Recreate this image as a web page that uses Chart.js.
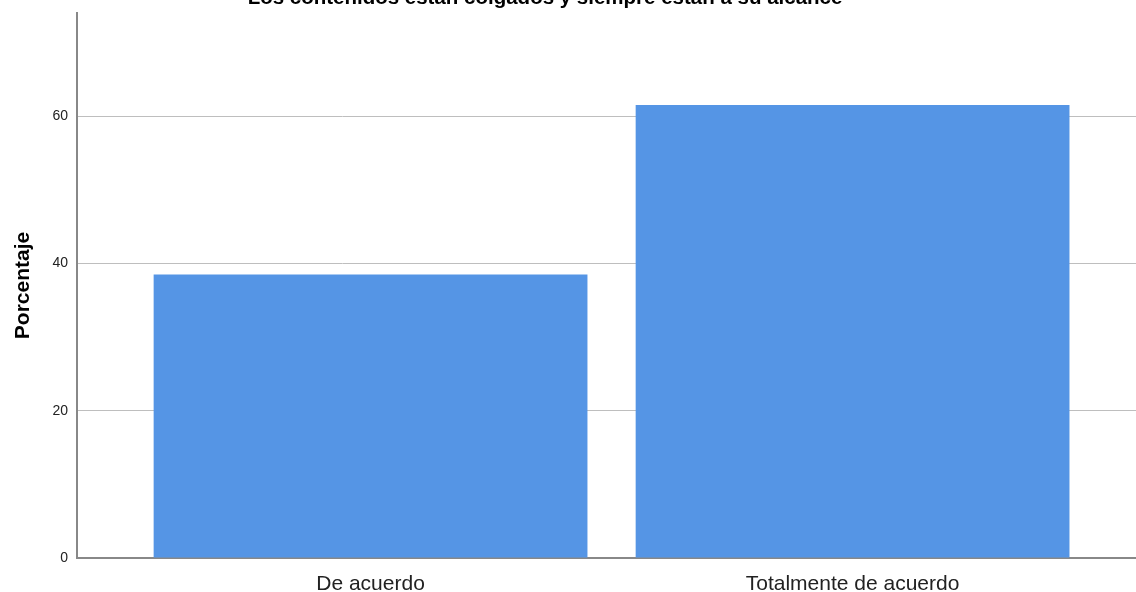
<!DOCTYPE html>
<html>
<head>
<meta charset="utf-8">
<script src="https://cdn.jsdelivr.net/npm/chart.js@4"></script>
<style>
  html, body { margin: 0; padding: 0; background: #fff; overflow: hidden; }
  #wrap { position: absolute; left: 0; top: -20px; width: 1136px; height: 612px; }
</style>
</head>
<body>
<div id="wrap"><canvas id="chart"></canvas></div>
<script>
// chart data
var TITLE = 'Los contenidos están colgados y siempre están a su alcance';
var CATEGORIES = ['De acuerdo', 'Totalmente de acuerdo'];
var PERCENTS = [38.5, 61.5];
var Y_TICKS = [0, 20, 40, 60];

var BLUE = '#5595e5';
var FONT = '"Liberation Sans", Arial, sans-serif';

/** Title sits a little left of the canvas centre, as in the SPSS output. */
var titlePlugin = {
  id: 'offsetTitle',
  afterDraw: function (chart) {
    var c = chart.ctx;
    c.save();
    c.fillStyle = '#000';
    c.font = 'bold 20.5px ' + FONT;
    c.textAlign = 'center';
    c.textBaseline = 'alphabetic';
    c.fillText(TITLE, 545, 24);
    c.restore();
  }
};

var ctx = document.getElementById('chart').getContext('2d');

new Chart(ctx, {
  type: 'bar',
  data: {
    datasets: [{
      label: 'Porcentaje',
      data: PERCENTS.map(function (v, i) { return { x: i, y: v }; }),
      backgroundColor: BLUE,
      borderWidth: 0,
      barPercentage: 0.9,
      categoryPercentage: 1
    }]
  },
  options: {
    responsive: true,
    maintainAspectRatio: false,
    animation: false,
    layout: { padding: { top: 33 } },
    plugins: {
      legend: { display: false },
      tooltip: { enabled: false },
      title: { display: false }
    },
    scales: {
      x: {
        type: 'linear',
        offset: false,
        bounds: 'data',
        min: -0.609,
        max: 1.588,
        afterBuildTicks: function (s) {
          s.ticks = CATEGORIES.map(function (c, i) { return { value: i }; });
        },
        afterFit: function (s) { s.height = 34; },
        grid: { display: false, offset: false },
        border: { display: true, color: '#888', width: 2 },
        ticks: {
          padding: 6,
          color: '#222',
          font: { family: FONT, size: 21 },
          maxRotation: 0,
          autoSkip: false,
          callback: function (v) { return CATEGORIES[v]; }
        }
      },
      y: {
        min: 0,
        max: 74,
        afterBuildTicks: function (s) {
          s.ticks = Y_TICKS.map(function (v) { return { value: v }; });
        },
        afterFit: function (s) { s.width = 77; },
        grid: { color: '#bebebe', lineWidth: 1, drawTicks: false },
        border: { display: true, color: '#888', width: 2 },
        ticks: {
          padding: 9,
          color: '#222',
          font: { family: FONT, size: 14 }
        },
        title: {
          display: true,
          text: 'Porcentaje',
          color: '#000',
          font: { family: FONT, size: 21, weight: 'bold' },
          padding: { top: 11, bottom: 0 }
        }
      }
    }
  },
  plugins: [titlePlugin]
});
</script>
</body>
</html>
